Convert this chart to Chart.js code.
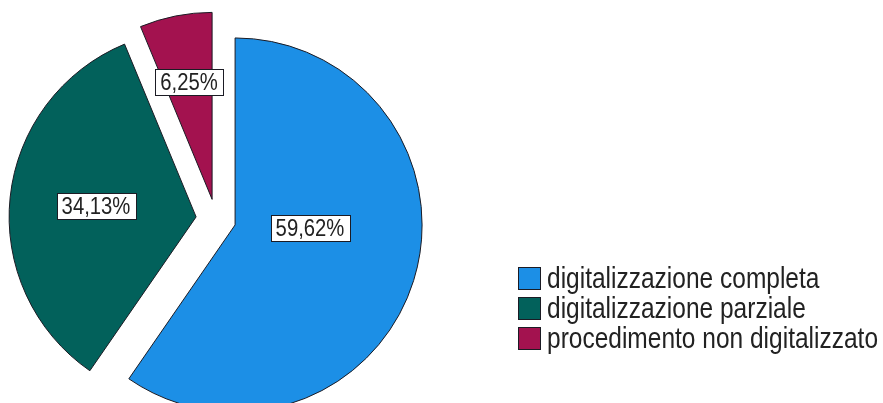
<!DOCTYPE html>
<html><head><meta charset="utf-8">
<script src="https://cdn.jsdelivr.net/npm/chart.js@4"></script>
<style>
html,body{margin:0;padding:0;background:#fff;overflow:hidden;width:883px;height:403px;}
#wrap{position:absolute;left:0;top:0;width:883px;height:438px;}
#legend{position:absolute;left:518px;top:263px;font-family:"Liberation Sans",Arial,sans-serif;font-size:29px;color:#222;}
.row{display:flex;align-items:center;height:30px;white-space:nowrap;}
.sw{width:23px;height:23px;border:1px solid #1b1b24;margin-right:6px;box-sizing:border-box;flex:none;}
.tx{display:inline-block;transform:scaleX(0.845);transform-origin:left center;}
</style></head>
<body>
<div id="wrap"><canvas id="c" width="883" height="438"></canvas></div>
<div id="legend"></div>
<script>
// ---- data ----
const categories = ['digitalizzazione completa', 'digitalizzazione parziale', 'procedimento non digitalizzato'];
const percentages = [59.62, 34.13, 6.25];
const valueLabels = ['59,62%', '34,13%', '6,25%'];

// ---- style ----
const sliceColors = ['#1C8FE6', '#02615B', '#A3124F'];
const EXPLODE = 20;
const LABEL_RADIUS = [0.40, 0.54, 0.64];
const LABEL_ANGLE_SHIFT = [-15, 0, 0];
const LABEL_FONT = '24px "Liberation Sans",Arial,sans-serif';
const TEXT_SQUEEZE = 0.845;

const explodePlugin = {
  id: 'explode',
  afterDatasetUpdate(chart, args) {
    const meta = chart.getDatasetMeta(args.index);
    meta.data.forEach(arc => {
      const mid = (arc.startAngle + arc.endAngle) / 2;
      arc.x += Math.cos(mid) * EXPLODE;
      arc.y += Math.sin(mid) * EXPLODE;
    });
  }
};

const labelPlugin = {
  id: 'boxLabels',
  afterDatasetsDraw(chart) {
    const ctx = chart.ctx;
    const meta = chart.getDatasetMeta(0);
    meta.data.forEach((arc, i) => {
      const mid = (arc.startAngle + arc.endAngle) / 2 + LABEL_ANGLE_SHIFT[i] * Math.PI / 180;
      const r = arc.outerRadius * LABEL_RADIUS[i];
      const x = Math.round(arc.x + Math.cos(mid) * r);
      const y = Math.round(arc.y + Math.sin(mid) * r);
      const text = valueLabels[i];
      ctx.save();
      ctx.font = LABEL_FONT;
      const w = Math.round(ctx.measureText(text).width * TEXT_SQUEEZE + 10);
      const h = 26;
      const bx = Math.round(x - w / 2) + 0.5, by = Math.round(y - h / 2) + 0.5;
      ctx.fillStyle = '#ffffff';
      ctx.fillRect(bx, by, w, h);
      ctx.strokeStyle = '#1b1b24';
      ctx.lineWidth = 1;
      ctx.strokeRect(bx, by, w, h);
      ctx.translate(x, y + 1);
      ctx.scale(TEXT_SQUEEZE, 1);
      ctx.fillStyle = '#222222';
      ctx.textAlign = 'center';
      ctx.textBaseline = 'middle';
      ctx.fillText(text, 0, 0);
      ctx.restore();
    });
  }
};

new Chart(document.getElementById('c'), {
  type: 'pie',
  data: {
    labels: categories,
    datasets: [{
      data: percentages,
      backgroundColor: sliceColors,
      borderColor: '#1b1b24',
      borderWidth: 1
    }]
  },
  options: {
    responsive: false,
    animation: false,
    events: [],
    radius: 187,
    layout: { padding: { left: 0, right: 451, top: 0, bottom: 0 } },
    plugins: { legend: { display: false }, tooltip: { enabled: false } }
  },
  plugins: [explodePlugin, labelPlugin]
});

// legend
const legend = document.getElementById('legend');
categories.forEach((name, i) => {
  const row = document.createElement('div');
  row.className = 'row';
  const sw = document.createElement('div');
  sw.className = 'sw';
  sw.style.background = sliceColors[i];
  const tx = document.createElement('span');
  tx.className = 'tx';
  tx.textContent = name;
  row.appendChild(sw);
  row.appendChild(tx);
  legend.appendChild(row);
});
</script>
</body></html>
